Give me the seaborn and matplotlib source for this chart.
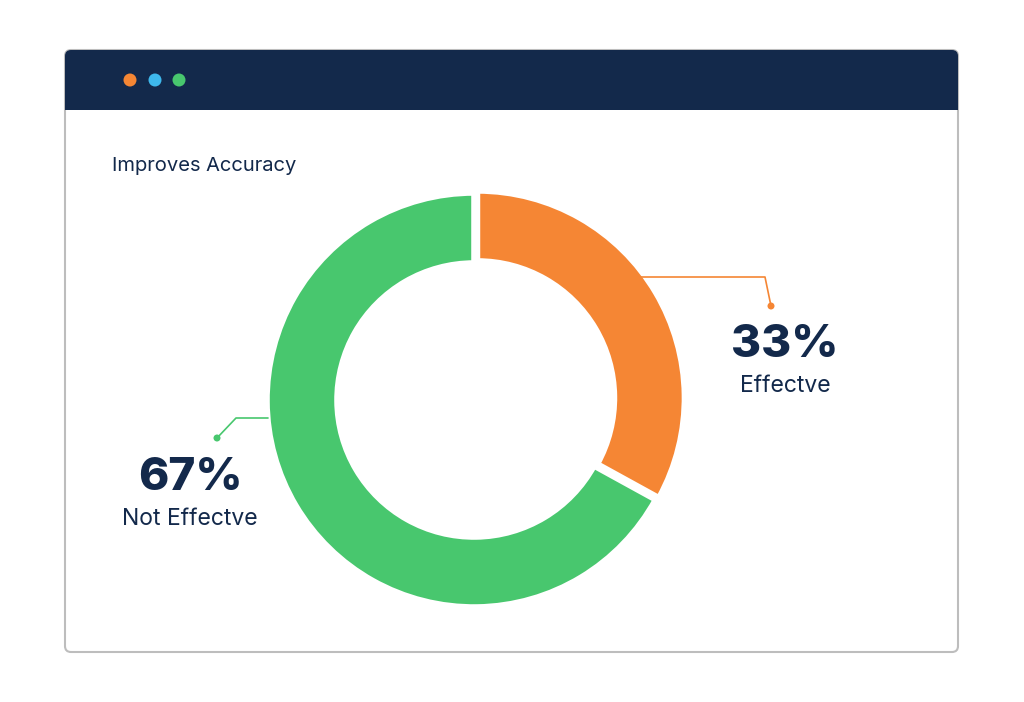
import matplotlib
matplotlib.use("Agg")
import matplotlib.pyplot as plt
import seaborn as sns
from matplotlib.patches import FancyBboxPatch, Rectangle, Circle

title = "Improves Accuracy"
categories = ["Effectve", "Not Effectve"]
values = [33, 67]
colors = ["#F58634", "#48C76E"]
navy = "#13294B"
font = "Inter"

sns.set_theme(style="white")
fig = plt.figure(figsize=(10.24, 7.02), dpi=100)
ax = fig.add_axes([0, 0, 1, 1])
Y = lambda y: 702 - y

ax.add_patch(FancyBboxPatch((65, Y(652)), 893, 602, boxstyle="round,pad=0,rounding_size=6",
                            fc="white", ec="#BDBDBD", lw=1.5, zorder=1))
ax.add_patch(FancyBboxPatch((65, Y(110)), 893, 60, boxstyle="round,pad=0,rounding_size=6",
                            fc=navy, ec=navy, lw=0, zorder=2))
ax.add_patch(Rectangle((65, Y(110)), 893, 20, fc=navy, ec="none", zorder=2))
for x, c in zip([130, 155, 179], ["#F58634", "#3EB8EC", "#48C76E"]):
    ax.add_patch(Circle((x, Y(80)), 6.5, fc=c, ec="none", zorder=3))

ax.text(112, Y(166), title, fontsize=14.5, color=navy, family=font, va="center", ha="left")

ax.pie(values, colors=colors, startangle=90, counterclock=False, center=(474, Y(400)),
       radius=207, explode=[4, 0], wedgeprops=dict(width=70, edgecolor="white", linewidth=4),
       frame=True)
ax.set_xlim(0, 1024); ax.set_ylim(0, 702); ax.set_aspect("equal"); ax.axis("off")

ax.plot([640, 765, 771], [Y(277), Y(277), Y(306)], color=colors[0], lw=1.2, zorder=5)
ax.add_patch(Circle((771, Y(306)), 3.5, fc=colors[0], ec="none", zorder=5))
ax.plot([268, 236, 217], [Y(418), Y(418), Y(438)], color=colors[1], lw=1.2, zorder=5)
ax.add_patch(Circle((217, Y(438)), 3.5, fc=colors[1], ec="none", zorder=5))

ax.text(785, Y(345), f"{values[0]}%", fontsize=33, fontweight="heavy", color=navy,
        family=font, ha="center", va="center")
ax.text(785, Y(386), categories[0], fontsize=16.5, color=navy, family=font, ha="center", va="center")
ax.text(190, Y(478), f"{values[1]}%", fontsize=33, fontweight="heavy", color=navy,
        family=font, ha="center", va="center")
ax.text(190, Y(519), categories[1], fontsize=16.5, color=navy, family=font, ha="center", va="center")

fig.savefig("out.png", dpi=100)
